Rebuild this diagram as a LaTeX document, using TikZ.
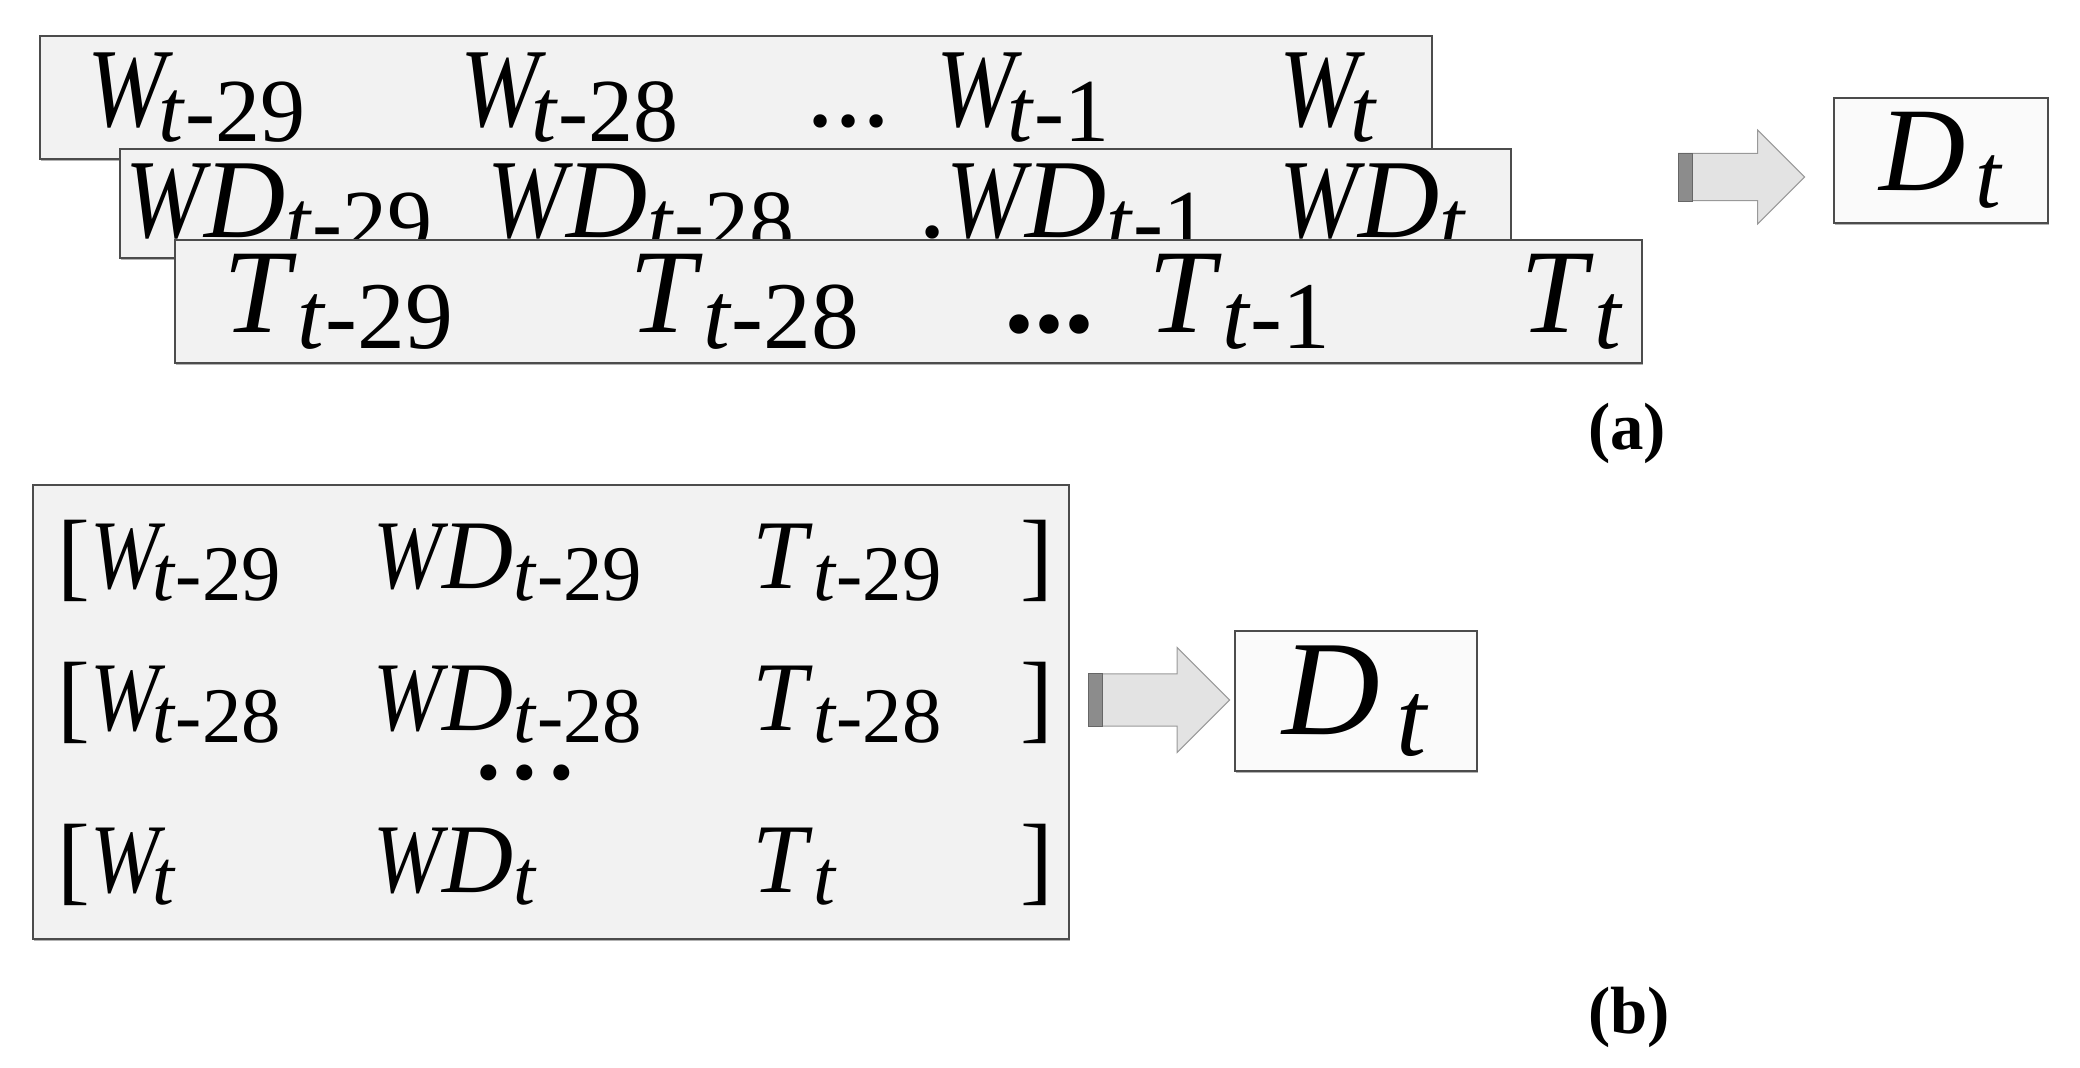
\documentclass[tikz,border=0pt]{standalone}
\usepackage{fontspec}
\setmainfont{Liberation Serif}
\usetikzlibrary{shapes.arrows, shadows}

% lagged variable X_{t-k}, optional kern tucks the subscript under the letter
\newcommand{\lagvar}[3][0em]{\textit{#2}\kern#1\raisebox{-0.13em}{\scalebox{0.8}{\textit{t}#3}}}
% narrow W as printed
\newcommand{\narrowW}{\scalebox{0.84}[1]{W}}
\newcommand{\wvar}[1]{\lagvar[-0.07em]{\narrowW}{#1}}
\newcommand{\wdvar}[1]{\lagvar{\narrowW D}{#1}}
% output variable D_t: gap, drop, scale of t
\newcommand{\dvar}[3]{\textit{D}\hspace{#1}\raisebox{-#2}{\scalebox{#3}{\textit{t}}}}

\begin{document}
\begin{tikzpicture}[x=0.01cm, y=-0.01cm,
    databox/.style={draw=black!70, line width=0.02cm, fill=black!5, inner sep=0pt, anchor=north west,
                    drop shadow={shadow xshift=0.01cm, shadow yshift=-0.02cm, fill=black!60}},
    outbox/.style={databox, fill=black!2},
    rowa/.style={anchor=base west, inner sep=0pt, font=\fontsize{32}{38}\selectfont},
    rowt/.style={rowa, font=\fontsize{34}{40}\selectfont},
    rowb/.style={anchor=base west, inner sep=0pt, font=\fontsize{28}{34}\selectfont},
    blockarrow/.style={single arrow, anchor=tail, draw=black!40, line width=0.01cm, fill=black!11,
                       inner xsep=0pt, inner ysep=0.23cm, single arrow head extend=0.235cm},
    tailbar/.style={fill=black!45, draw=black!60, line width=0.008cm},
    sublabel/.style={font=\bfseries\fontsize{19}{23}\selectfont}]

    \useasboundingbox (0,0) rectangle (2080,1067);

    % (a) wind speed row:
    \node[databox, minimum width=13.91cm, minimum height=1.23cm] (Wbox) at (39,35) {};
    \node[rowa] (w29) at (87,127) {\wvar{-29}};
    \node[rowa] (w28) at (460,127) {\wvar{-28}};
    \node[rowa] (wdots) at (806,127) {...};
    \node[rowa] (w1) at (936,127) {\wvar{-1}};
    \node[rowa] (w0) at (1279,127) {\wvar{}};

    % (a) wind direction row:
    \node[databox, minimum width=13.90cm, minimum height=1.09cm] (WDbox) at (119,148) {};
    \node[rowa] (wd29) at (125,238) {\wdvar{-29}};
    \node[rowa] (wd28) at (487,238) {\wdvar{-28}};
    \node[rowa] (wd1) at (918,238) {.\wdvar{-1}};
    \node[rowa] (wd0) at (1279,238) {\wdvar{}};

    % (a) temperature row:
    \node[databox, minimum width=14.66cm, minimum height=1.23cm] (Tbox) at (174,239) {};
    \node[rowt] (t29) at (223,333) {\lagvar{T}{-29}};
    \node[rowt] (t28) at (629,333) {\lagvar{T}{-28}};
    \node[rowt] (tdots) at (1004,333) {\textbf{...}};
    \node[rowt] (t1) at (1148,333) {\lagvar{T}{-1}};
    \node[rowt] (t0) at (1520,333) {\lagvar{T}{}};

    % (a) output:
    \node[blockarrow, minimum height=1.26cm] (arrA) at (1678,177) {};
    \fill[tailbar] (arrA.before tail) rectangle ([xshift=0.14cm]arrA.after tail);
    \node[outbox, minimum width=2.14cm, minimum height=1.25cm, font=\fontsize{34}{40}\selectfont] (Da) at (1833,97) {\dvar{0.08em}{0.14em}{0.77}};
    \node[sublabel] (la) at (1627,433) {(a)};

    % (b) input matrix:
    \node[databox, minimum width=10.35cm, minimum height=4.54cm] (Mbox) at (32,484) {};
    \node[rowb] (m1w) at (57,588) {[\wvar{-29}};
    \node[rowb] (m1wd) at (373,588) {\wdvar{-29}};
    \node[rowb] (m1t) at (752,588) {\lagvar{T}{-29}};
    \node[rowb] (m1r) at (1020,588) {]};
    \node[rowb] (m2w) at (57,730) {[\wvar{-28}};
    \node[rowb] (m2wd) at (373,730) {\wdvar{-28}};
    \node[rowb] (m2t) at (752,730) {\lagvar{T}{-28}};
    \node[rowb] (m2r) at (1020,730) {]};
    \node[rowb, anchor=base] (mdots) at (525,779) {\textbf{.\kern0.12em.\kern0.12em.}};
    \node[rowb] (m3w) at (57,892) {[\wvar{}};
    \node[rowb] (m3wd) at (373,892) {\wdvar{}};
    \node[rowb] (m3t) at (752,892) {\lagvar{T}{}};
    \node[rowb] (m3r) at (1020,892) {]};

    % (b) output:
    \node[blockarrow, minimum height=1.41cm, inner ysep=0.255cm, single arrow head extend=0.265cm] (arrB) at (1088,700) {};
    \fill[tailbar] (arrB.before tail) rectangle ([xshift=0.14cm]arrB.after tail);
    \node[outbox, minimum width=2.42cm, minimum height=1.40cm, font=\fontsize{38.5}{44}\selectfont] (Db) at (1234,630) {\dvar{0.12em}{0.15em}{0.8}};
    \node[sublabel] (lb) at (1629,1017) {(b)};
\end{tikzpicture}
\end{document}
